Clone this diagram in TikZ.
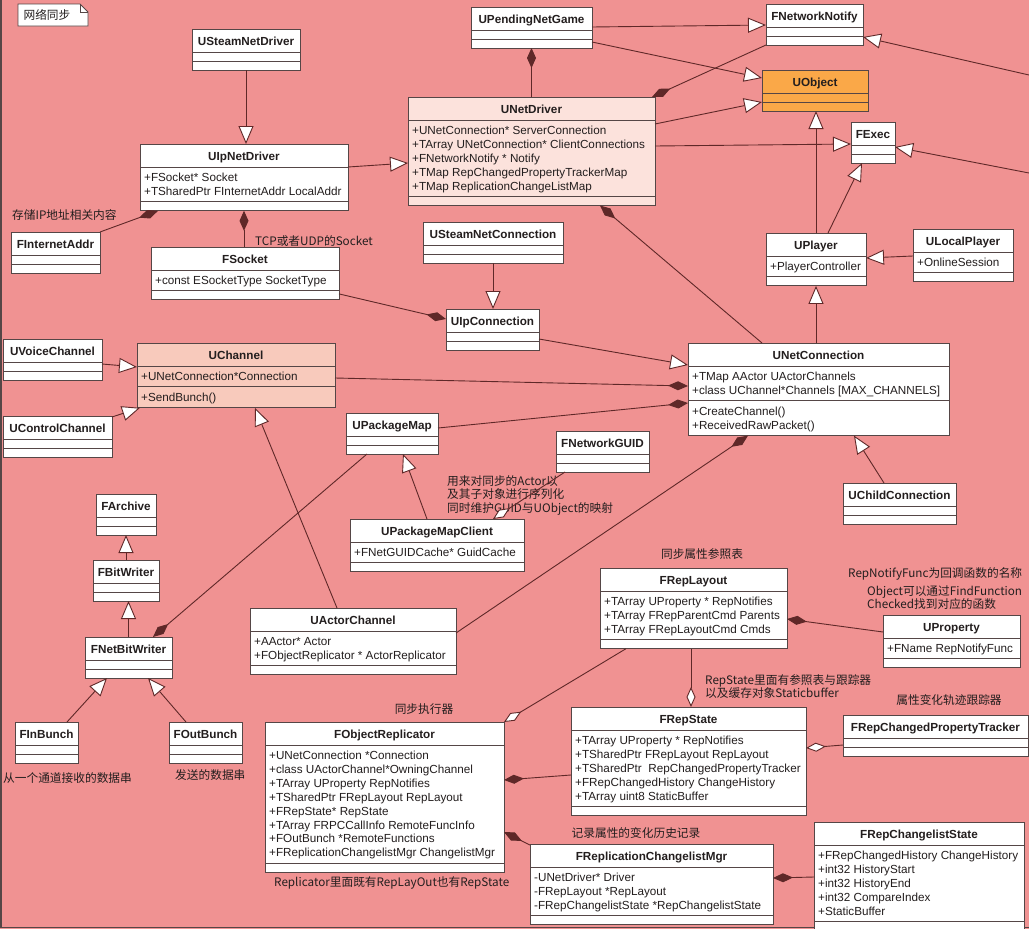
\documentclass[tikz,border=0pt]{standalone}
\usepackage{fontspec}
\setmainfont{Liberation Sans}
\newfontfamily\cjk{Noto Sans CJK SC}
\usepackage{tikz}
\usetikzlibrary{arrows.meta}
\usetikzlibrary{calc}
\usetikzlibrary{positioning}

\definecolor{bgpink}{RGB}{240,146,146}
\definecolor{linebrown}{RGB}{95,40,40}
\definecolor{boxgray}{RGB}{85,70,70}
\definecolor{drvfill}{RGB}{252,226,220}
\definecolor{chanfill}{RGB}{248,202,188}
\definecolor{objorange}{RGB}{250,168,72}
\definecolor{textgray}{RGB}{35,30,30}

% class box: [fill]{name}{x,y}{width}{title}{#attr}{attrs}{#meth}{meths}
\newcommand{\umlclass}[9][white]{%
  \pgfmathsetmacro{\hattr}{#6==0 ? 9 : #6*13.9+7}%
  \pgfmathsetmacro{\hmeth}{#8==0 ? 9 : #8*13.9+7}%
  \pgfmathsetmacro{\htot}{23+\hattr+\hmeth}%
  \node[classbox, fill=#1, minimum width=#4pt, minimum height=\htot pt] (#2) at (#3) {};
  \node[titletext] (#2-t) at ($(#2.north)+(0,16)$) {#5};
  \draw[boxline] ($(#2.north west)+(0,23)$) -- ++(#4,0);
  \draw[boxline] ($(#2.north west)+(0,23+\hattr)$) -- ++(#4,0);
  \ifnum#6>0
    \foreach \entry [count=\row] in {#7} {
      \node[attrtext] (#2-a\row) at ($(#2.north west)+(4,{37.5+(\row-1)*13.9})$) {\entry};
    }
  \fi
  \ifnum#8>0
    \foreach \entry [count=\row] in {#9} {
      \node[attrtext] (#2-m\row) at ($(#2.north west)+(4,{37.5+\hattr+(\row-1)*13.9})$) {\entry};
    }
  \fi
}

\begin{document}
\fontsize{11.7}{13.9}\selectfont
\begin{tikzpicture}[x=1pt, y=-1pt]

% used shapes
\tikzstyle{classbox} = [rectangle, draw=boxgray, line width=0.9pt, outer sep=0pt, inner sep=0pt, anchor=north west]
\tikzstyle{boxline} = [draw=boxgray, line width=0.9pt]
\tikzstyle{titletext} = [anchor=base, font=\bfseries, text=textgray, inner sep=0pt]
\tikzstyle{attrtext} = [anchor=base west, text=textgray, inner sep=0pt]
\tikzstyle{remark} = [anchor=base west, font=\cjk, text=textgray, inner sep=0pt]
\tikzstyle{remarkc} = [remark, anchor=base]
\tikzstyle{inherit} = [draw=linebrown, line width=0.9pt, -{Triangle[length=18pt, width=15pt, fill=white]}]
\tikzstyle{composition} = [draw=linebrown, line width=0.9pt, {Diamond[length=20pt, width=9pt, fill=linebrown]}-]
\tikzstyle{aggregation} = [draw=linebrown, line width=0.9pt, {Diamond[length=20pt, width=9pt, fill=white]}-]

\useasboundingbox (0,0) rectangle (1029,929);
\fill[bgpink] (0,0) rectangle (1029,929);
\draw[boxgray, line width=1.2pt] (1,0) -- (1,927.5) -- (1029,927.5);

% note
\draw[boxline, fill=white] (18,4) -- (80,4) -- (88,12) -- (88,26) -- (18,26) -- cycle;
\draw[boxline] (80,4) -- (80,12) -- (88,12);
\node[remarkc] (title) at (47,19.5) {网络同步};

% drivers
\umlclass{steamdrv}{192,29}{108}{USteamNetDriver}{0}{}{0}{}
\umlclass{ipdrv}{140,144}{208}{UIpNetDriver}{2}{+FSocket* Socket, +TSharedPtr FInternetAddr LocalAddr}{0}{}
\umlclass{inetaddr}{11,232}{89}{FInternetAddr}{0}{}{0}{}
\umlclass{socket}{151,247}{188}{FSocket}{1}{+const ESocketType SocketType}{0}{}
\umlclass{pending}{471,7}{121}{UPendingNetGame}{0}{}{0}{}
\umlclass[drvfill]{netdrv}{408,97}{247}{UNetDriver}{5}{+UNetConnection* ServerConnection, +TArray UNetConnection* ClientConnections, +FNetworkNotify * Notify, +TMap RepChangedPropertyTrackerMap, +TMap ReplicationChangeListMap}{0}{}
\umlclass{notify}{766,4}{97}{FNetworkNotify}{0}{}{0}{}
\umlclass[objorange]{uobject}{762,70}{106}{UObject}{0}{}{0}{}
\umlclass{fexec}{851,122}{44}{FExec}{0}{}{0}{}
\umlclass{player}{766,233}{100}{UPlayer}{1}{+PlayerController}{0}{}
\umlclass{localplayer}{913,229}{100}{ULocalPlayer}{1}{+OnlineSession}{0}{}

% connections and channels
\umlclass{steamconn}{423,222}{140}{USteamNetConnection}{0}{}{0}{}
\umlclass{ipconn}{446,309}{93}{UIpConnection}{0}{}{0}{}
\umlclass{netconn}{688,343}{261}{UNetConnection}{2}{+TMap AActor UActorChannels, {+class UChannel*Channels [MAX\_CHANNELS]}}{2}{+CreateChannel(), +ReceivedRawPacket()}
\umlclass{childconn}{843,483}{113}{UChildConnection}{0}{}{0}{}
\umlclass{voice}{3,339}{99}{UVoiceChannel}{0}{}{0}{}
\umlclass[chanfill]{channel}{137,343}{198}{UChannel}{1}{+UNetConnection*Connection}{1}{+SendBunch()}
\umlclass{control}{3,416}{109}{UControlChannel}{0}{}{0}{}
\umlclass{packagemap}{346,413}{92}{UPackageMap}{0}{}{0}{}
\umlclass{guid}{556,431}{93}{FNetworkGUID}{0}{}{0}{}
\umlclass{pmclient}{350,519}{174}{UPackageMapClient}{1}{+FNetGUIDCache* GuidCache}{0}{}
\umlclass{actorchan}{250,608}{206}{UActorChannel}{2}{+AActor* Actor, +FObjectReplicator * ActorReplicator}{0}{}

% archives
\umlclass{archive}{96,494}{60}{FArchive}{0}{}{0}{}
\umlclass{bitwriter}{93,560}{66}{FBitWriter}{0}{}{0}{}
\umlclass{netbitwriter}{85,637}{87}{FNetBitWriter}{0}{}{0}{}
\umlclass{inbunch}{15,722}{63}{FInBunch}{0}{}{0}{}
\umlclass{outbunch}{169,722}{73}{FOutBunch}{0}{}{0}{}

% replication
\umlclass{replayout}{600,568}{187}{FRepLayout}{3}{+TArray UProperty * RepNotifies, +TArray FRepParentCmd Parents, +TArray FRepLayoutCmd Cmds}{0}{}
\umlclass{uproperty}{883,615}{137}{UProperty}{1}{+FName RepNotifyFunc}{0}{}
\umlclass{repstate}{571,707}{235}{FRepState}{5}{+TArray UProperty * RepNotifies, +TSharedPtr FRepLayout RepLayout, +TSharedPtr\ \ RepChangedPropertyTracker, +FRepChangedHistory ChangeHistory, +TArray uint8 StaticBuffer}{0}{}
\umlclass{tracker}{843,715}{185}{FRepChangedPropertyTracker}{0}{}{0}{}
\umlclass{objrep}{265,722}{239}{FObjectReplicator}{8}{+UNetConnection *Connection, +class UActorChannel*OwningChannel, +TArray UProperty RepNotifies, +TSharedPtr FRepLayout RepLayout, +FRepState* RepState, +TArray FRPCCallInfo RemoteFuncInfo, +FOutBunch *RemoteFunctions, +FReplicationChangelistMgr ChangelistMgr}{0}{}
\umlclass{clmgr}{530,844}{243}{FReplicationChangelistMgr}{3}{-UNetDriver* Driver, -FRepLayout *RepLayout, -FRepChangelistState *RepChangelistState}{0}{}
\umlclass{clstate}{814,822}{210}{FRepChangelistState}{5}{+FRepChangedHistory ChangeHistory, +int32 HistoryStart, +int32 HistoryEnd, +int32 CompareIndex, +StaticBuffer}{0}{}

% remarks
\node[remark] (ipnote) at (12,219.5) {存储IP地址相关内容};
\node[remark] (socknote) at (255,245.5) {TCP或者UDP的Socket};
\node[remark] (pmnoteA) at (447,485.5) {用来对同步的Actor以};
\node[remark] (pmnoteB) at (447,498.5) {及其子对象进行序列化};
\node[remark] (pmnoteC) at (447,512.5) {同时维护GUID与UObject的映射};
\node[remark] (innote) at (3,782.5) {从一个通道接收的数据串};
\node[remark] (outnote) at (175,779.5) {发送的数据串};
\node[remarkc] (layoutnote) at (702,558.5) {同步属性参照表};
\node[remark] (funcnoteA) at (848,577.5) {RepNotifyFunc为回调函数的名称};
\node[remark] (funcnoteB) at (867,595.5) {Object可以通过FindFunction};
\node[remark] (funcnoteC) at (867,608.5) {Checked找到对应的函数};
\node[remark] (statenoteA) at (705,684.5) {RepState里面有参照表与跟踪器};
\node[remark] (statenoteB) at (705,697.5) {以及缓存对象Staticbuffer};
\node[remarkc] (trackernote) at (949,704.5) {属性变化轨迹跟踪器};
\node[remarkc] (objrepnote) at (424,713.5) {同步执行器};
\node[remark] (bothnote) at (274,886.5) {Replicator里面既有RepLayOut也有RepState};
\node[remarkc] (clnote) at (636,837.5) {记录属性的变化历史记录};

% off-page ends
\coordinate (edgeA) at (1029,75);
\coordinate (edgeB) at (1029,173);

% inheritance
\draw[inherit] (steamdrv.south) -- (steamdrv.south |- ipdrv.north);
\draw[inherit] ($(ipdrv.north east)+(0,23)$) -- ($(netdrv.north west)+(0,66)$);
\draw[inherit] ($(pending.north east)+(0,20)$) -- ($(notify.north west)+(0,21)$);
\draw[inherit] ($(pending.north east)+(0,35)$) -- ($(uobject.north west)+(0,8)$);
\draw[inherit] ($(netdrv.north east)+(0,27)$) -- ($(uobject.north west)+(0,32)$);
\draw[inherit] ($(netdrv.north east)+(0,49)$) -- ($(fexec.north west)+(0,22)$);
\draw[inherit] (edgeA) -- ($(notify.north east)+(0,33)$);
\draw[inherit] (edgeB) -- ($(fexec.north east)+(0,25)$);
\draw[inherit] (player.north) -- (player.north |- uobject.south);
\draw[inherit] ($(player.north west)+(62,0)$) -- ($(fexec.south west)+(11,0)$);
\draw[inherit] ($(localplayer.north west)+(0,27)$) -- ($(player.north east)+(0,25)$);
\draw[inherit] ($(netconn.north west)+(128,0)$) -- ($(player.south west)+(50,0)$);
\draw[inherit] ($(childconn.north west)+(41,0)$) -- ($(netconn.south west)+(166,0)$);
\draw[inherit] (steamconn.south) -- (steamconn.south |- ipconn.north);
\draw[inherit] ($(ipconn.north east)+(0,30)$) -- ($(netconn.north west)+(0,22)$);
\draw[inherit] ($(voice.north east)+(0,25)$) -- ($(channel.north west)+(0,24)$);
\draw[inherit] ($(control.north east)+(0,1)$) -- ($(channel.south west)+(3,0)$);
\draw[inherit] ($(actorchan.north west)+(87,0)$) -- ($(channel.south west)+(118,0)$);
\draw[inherit] ($(pmclient.north west)+(77,0)$) -- ($(packagemap.south west)+(57,0)$);
\draw[inherit] (bitwriter.north) -- (bitwriter.north |- archive.south);
\draw[inherit] (netbitwriter.north) -- (netbitwriter.north |- bitwriter.south);
\draw[inherit] ($(inbunch.north west)+(52,0)$) -- ($(netbitwriter.south west)+(22,0)$);
\draw[inherit] ($(outbunch.north west)+(17,0)$) -- ($(netbitwriter.south west)+(63,0)$);

% composition
\draw[composition] ($(ipdrv.south west)+(18,0)$) -- (inetaddr.north east);
\draw[composition] (ipdrv.south) -- (ipdrv.south |- socket.north);
\draw[composition] (pending.south) -- (pending.south |- netdrv.north);
\draw[composition] ($(netdrv.north east)+(-3,0)$) -- (notify.south west);
\draw[composition] ($(netdrv.south west)+(192,0)$) -- ($(netconn.north west)+(74,0)$);
\draw[composition] ($(ipconn.north west)+(0,10)$) -- ($(socket.south east)+(0,-6)$);
\draw[composition] ($(netconn.north west)+(0,43)$) -- ($(channel.north east)+(0,35)$);
\draw[composition] ($(netconn.north west)+(0,60)$) -- ($(packagemap.north east)+(0,15)$);
\draw[composition] ($(netconn.south west)+(60,0)$) -- ($(actorchan.north east)+(0,25)$);
\draw[composition] ($(netbitwriter.north east)+(-19,0)$) -- ($(packagemap.south west)+(21,0)$);
\draw[composition] ($(replayout.north east)+(0,51)$) -- ($(uproperty.north west)+(0,17)$);
\draw[composition] ($(objrep.north east)+(0,58)$) -- ($(repstate.north west)+(0,68)$);
\draw[composition] ($(objrep.north east)+(0,110)$) -- ($(clmgr.north west)+(0,1)$);
\draw[composition] ($(clmgr.north east)+(0,34)$) -- ($(clstate.north west)+(0,55)$);

% aggregation
\draw[aggregation] ($(pmclient.north west)+(143,0)$) -- ($(guid.south west)+(9,0)$);
\draw[aggregation] ($(repstate.north west)+(120,0)$) -- ($(replayout.south west)+(91,0)$);
\draw[aggregation] (objrep.north east) -- ($(replayout.south west)+(26,0)$);
\draw[aggregation] ($(repstate.north east)+(0,41)$) -- ($(tracker.north west)+(0,30)$);

\end{tikzpicture}
\end{document}
